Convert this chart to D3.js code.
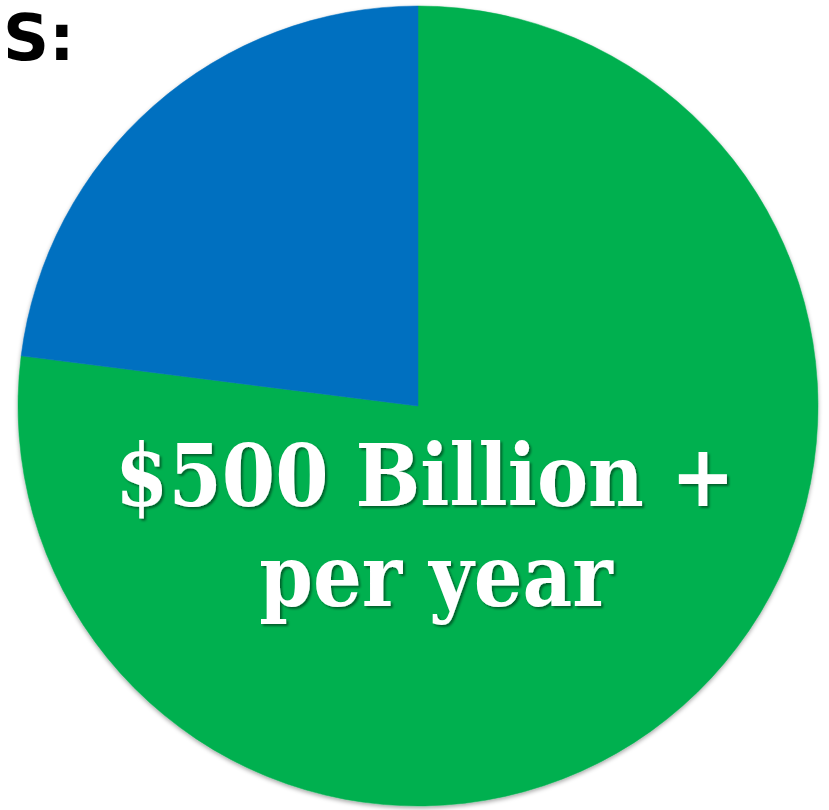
<!DOCTYPE html>
<html>
<head>
<meta charset="utf-8">
<script src="https://cdn.jsdelivr.net/npm/d3@7"></script>
<style>
  html, body { margin: 0; padding: 0; background: #ffffff; }
  svg { display: block; }
</style>
</head>
<body>
<svg id="chart" width="829" height="810"></svg>
<script>
// Data
const categories = ["Other", "Cost"];
const values = [77, 23];
const colors = ["#00B050", "#0070C0"];
const labelLines = ["$500 Billion +", "per year"];
const titleText = "S:";

const svg = d3.select("#chart");
const W = 829, H = 810;
const cx = 418, cy = 406, r = 400;

const defs = svg.append("defs");
const f = defs.append("filter").attr("id", "pieShadow")
  .attr("x", "-10%").attr("y", "-10%").attr("width", "120%").attr("height", "120%");
f.append("feDropShadow").attr("dx", 0).attr("dy", 2).attr("stdDeviation", 2)
  .attr("flood-color", "#000").attr("flood-opacity", 0.35);
const tf = defs.append("filter").attr("id", "textShadow")
  .attr("x", "-10%").attr("y", "-20%").attr("width", "120%").attr("height", "140%");
tf.append("feDropShadow").attr("dx", 2).attr("dy", 2).attr("stdDeviation", 1.2)
  .attr("flood-color", "#000").attr("flood-opacity", 0.45);

const pie = d3.pie().sort(null).value(d => d)
  .startAngle(0).endAngle(2 * Math.PI);
const arc = d3.arc().innerRadius(0).outerRadius(r);

const g = svg.append("g").attr("transform", `translate(${cx},${cy})`)
  .attr("filter", "url(#pieShadow)");
g.selectAll("path").data(pie(values)).join("path")
  .attr("d", arc)
  .attr("fill", (d, i) => colors[i])
  .attr("stroke", (d, i) => colors[i])
  .attr("stroke-width", 0.5);

// Label
const labelG = svg.append("g").attr("filter", "url(#textShadow)");
const fontFamily = "'DejaVu Serif', 'Liberation Serif', serif";
const probe = labelG.append("text")
  .attr("font-family", fontFamily).attr("font-weight", "bold")
  .attr("font-size", 80).text(labelLines[0]);
const fs = 80 * 620 / probe.node().getComputedTextLength();
probe.remove();
const vs = 1.12; // vertical stretch to match taller glyphs
function addLine(txt, x, y) {
  labelG.append("text")
    .attr("transform", `translate(${x},${y}) scale(1,${vs})`)
    .attr("text-anchor", "middle")
    .attr("font-family", fontFamily).attr("font-weight", "bold")
    .attr("font-size", fs).attr("fill", "#ffffff")
    .text(txt);
}
addLine(labelLines[0], 425, 506);
addLine(labelLines[1], 436, 606);

// Title fragment
svg.append("text")
  .attr("x", 3).attr("y", 60)
  .attr("text-anchor", "start")
  .attr("font-family", "Verdana, 'DejaVu Sans', sans-serif")
  .attr("font-weight", "bold")
  .attr("font-size", 64)
  .attr("fill", "#000")
  .text(titleText);
</script>
</body>
</html>
